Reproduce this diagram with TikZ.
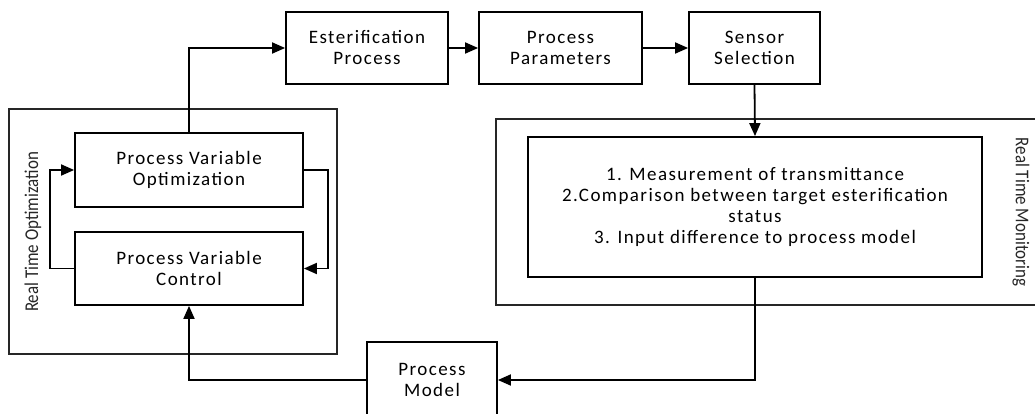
\documentclass[tikz,border=0pt]{standalone}
\usepackage{fontspec}
\setmainfont{Carlito}[LetterSpace=7.5]
\newfontfamily\labfont{Carlito}[FakeStretch=0.87]
\usetikzlibrary{arrows.meta}
\begin{document}
\begin{tikzpicture}[x=1pt,y=-1pt,
  box/.style={draw=black, line width=1.8pt, rectangle, align=center, inner sep=0pt,
    font=\fontsize{19}{21}\selectfont, text=black},
  group/.style={draw=black!85, line width=1.2pt, rectangle, inner sep=0pt},
  grouplabel/.style={font=\labfont\fontsize{19.5}{22}\selectfont, text=black!85, inner sep=0pt},
  arr/.style={line width=1.8pt, -{Triangle[length=13pt,width=11pt]}}
]
\useasboundingbox (0,0) rectangle (1035,414);
% group boxes
\node[group, minimum width=328pt, minimum height=245pt] (rtobox) at (173,231.5) {};
\node[group, minimum width=548pt, minimum height=186pt] (rtmbox) at (770,212) {};
\node[grouplabel, rotate=90] (rtolab) at (33,232) {Real Time Optimization};
\node[grouplabel, rotate=-90] (rtmlab) at (1021,212) {Real Time Monitoring};
% process boxes
\node[box, minimum width=162pt, minimum height=72pt] (est) at (367,48) {Esterification\\Process};
\node[box, minimum width=163pt, minimum height=72pt] (par) at (560.5,48) {Process\\Parameters};
\node[box, minimum width=131pt, minimum height=72pt] (sen) at (754.5,48) {Sensor\\Selection};
\node[box, minimum width=454pt, minimum height=140pt] (mon) at (755,207)
  {1. Measurement of transmittance\\2.Comparison between target esterification\\status\\3. Input difference to process model};
\node[box, minimum width=228pt, minimum height=74pt] (pvo) at (189,170) {Process Variable\\Optimization};
\node[box, minimum width=228pt, minimum height=73pt] (pvc) at (189,268.5) {Process Variable\\Control};
\node[box, minimum width=130pt, minimum height=76pt] (pm) at (432,380) {Process\\Model};
% connectors
\draw[arr] (pvo.north) |- (est.west);
\draw[arr] (est.east) -- (par.west);
\draw[arr] (par.east) -- (sen.west);
\draw[arr] (sen.south) -- (mon.north);
\draw[arr] (mon.south) |- (pm.east);
\draw[arr] (pm.west) -| (pvc.south);
\draw[arr] (pvc.west) -- ++(-24,0) |- (pvo.west);
\draw[arr] (pvo.east) -- ++(24,0) |- (pvc.east);
\end{tikzpicture}
\end{document}
